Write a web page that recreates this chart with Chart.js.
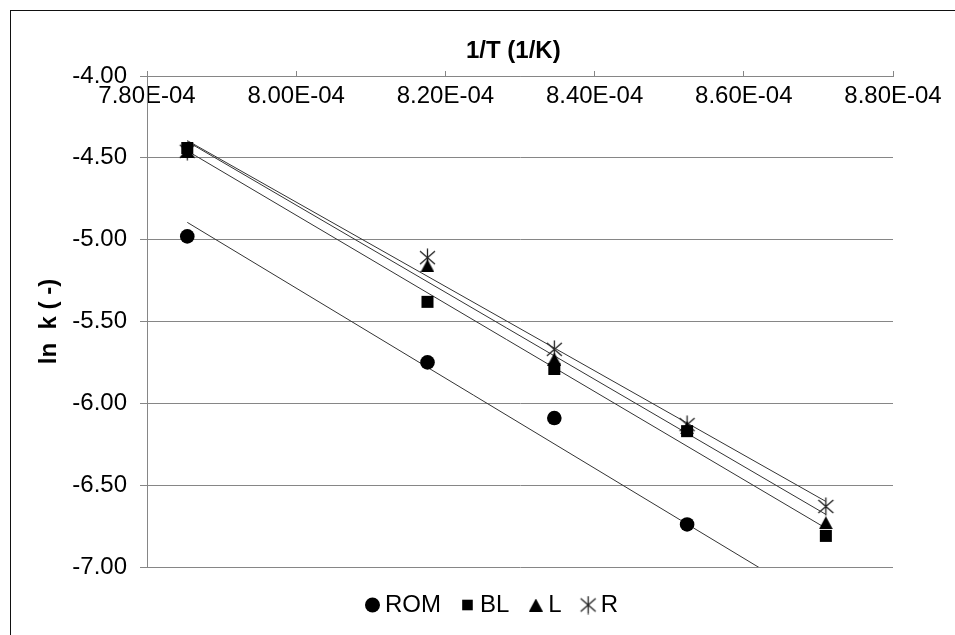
<!DOCTYPE html>
<html><head><meta charset="utf-8">
<script src="https://cdn.jsdelivr.net/npm/chart.js@4.4.1/dist/chart.umd.min.js"></script>
<style>
html,body{margin:0;padding:0;background:#fff;}
#wrap{position:relative;width:955px;height:635px;overflow:hidden;background:#fff;}
#frame{position:absolute;left:10px;top:10px;width:2000px;height:2000px;border-left:1.5px solid #111;border-top:1.5px solid #111;}
canvas{position:absolute;left:0;top:0;}
</style></head><body>
<div id="wrap"><div id="frame"></div><canvas id="c" width="955" height="635"></canvas></div>
<script>
// ---- data ----
const invT = [7.854e-4, 8.176e-4, 8.346e-4, 8.524e-4, 8.710e-4];   // 1/T (1/K)
const seriesNames = ['ROM', 'BL', 'L', 'R'];
const lnkROM = [-4.98, -5.75, -6.09, -6.74, -7.35];
const lnkBL  = [-4.44, -5.38, -5.79, -6.17, -6.81];
const lnkL   = [-4.46, -5.16, -5.73, -6.15, -6.73];
const lnkR   = [-4.46, -5.11, -5.67, -6.13, -6.63];
const xTickValues = [7.8e-4, 8.0e-4, 8.2e-4, 8.4e-4, 8.6e-4, 8.8e-4];
const yTickValues = [-4.0, -4.5, -5.0, -5.5, -6.0, -6.5, -7.0];
const xTitle = '1/T (1/K)\u00a0\u00a0';
const yTitle = 'ln  k ( -)';

const FONT = "'Liberation Sans', Arial, sans-serif";
const GRID = '#868686';
const TREND = '#333333';

function toPts(ys) { return invT.map((x, i) => ({x: x, y: ys[i]})); }
function trend(ys) {
  const n = invT.length;
  let mx = 0, my = 0;
  for (let i = 0; i < n; i++) { mx += invT[i]; my += ys[i]; }
  mx /= n; my /= n;
  let sxy = 0, sxx = 0;
  for (let i = 0; i < n; i++) { sxy += (invT[i] - mx) * (ys[i] - my); sxx += (invT[i] - mx) ** 2; }
  const b = sxy / sxx, a = my - b * mx;
  const x0 = Math.min(...invT), x1 = Math.max(...invT);
  return [{x: x0, y: a + b * x0}, {x: x1, y: a + b * x1}];
}
function makeStar() {
  const s = 19, c = document.createElement('canvas');
  c.width = s; c.height = s;
  const g = c.getContext('2d');
  g.strokeStyle = '#222'; g.lineWidth = 1.3;
  g.beginPath();
  g.moveTo(s / 2, 0.5); g.lineTo(s / 2, s - 0.5);
  g.moveTo(2, 3); g.lineTo(s - 2, s - 3);
  g.moveTo(s - 2, 3); g.lineTo(2, s - 3);
  g.stroke();
  return c;
}
function makeTriangle() {
  const w = 14, h = 13, c = document.createElement('canvas');
  c.width = w; c.height = h;
  const g = c.getContext('2d');
  g.fillStyle = '#000';
  g.beginPath(); g.moveTo(w / 2, 0); g.lineTo(w, h); g.lineTo(0, h); g.closePath(); g.fill();
  return c;
}
function fmtE(v) {
  const parts = Number(v).toExponential(2).split('e');
  const n = parseInt(parts[1], 10);
  return parts[0] + 'E' + (n < 0 ? '-' : '+') + String(Math.abs(n)).padStart(2, '0');
}
const seriesY = [lnkROM, lnkBL, lnkL, lnkR];
const styles = ['circle', 'rect', makeTriangle(), makeStar()];
const radii = [7.3, 8.5, 7, 9];
const orders = [1, 1, 1, 3];

const datasets = [];
seriesY.forEach((ys, i) => {
  datasets.push({
    label: seriesNames[i], data: toPts(ys), pointStyle: styles[i], pointRadius: radii[i],
    backgroundColor: '#000', borderColor: '#000', borderWidth: 0, showLine: false, order: orders[i]
  });
});
seriesY.forEach((ys, i) => {
  datasets.push({
    label: 'trend ' + seriesNames[i], data: trend(ys), showLine: true, pointRadius: 0,
    borderColor: TREND, borderWidth: 1, backgroundColor: TREND, order: 2
  });
});

new Chart(document.getElementById('c'), {
  type: 'scatter',
  data: {datasets: datasets},
  options: {
    responsive: false, animation: false, events: [],
    layout: {padding: {left: 35, right: 0, top: 0, bottom: 8}},
    plugins: {
      tooltip: {enabled: false},
      legend: {
        position: 'bottom', align: 'center',
        labels: {
          usePointStyle: true, boxWidth: 1, boxHeight: 10.6, padding: 26,
          font: {family: FONT, size: 24}, color: '#000',
          filter: (it) => it.datasetIndex < seriesNames.length,
          sort: (a, b) => a.datasetIndex - b.datasetIndex
        }
      }
    },
    scales: {
      x: {
        type: 'linear', position: 'top', min: xTickValues[0], max: xTickValues[xTickValues.length - 1],
        afterBuildTicks: (s) => { s.ticks = xTickValues.map(v => ({value: v})); },
        ticks: {mirror: true, padding: 6, maxRotation: 0, autoSkip: false, callback: fmtE,
                font: {family: FONT, size: 24}, color: '#000'},
        grid: {drawOnChartArea: false, drawTicks: true, tickLength: 5, color: GRID},
        border: {display: true, color: GRID, width: 1},
        title: {display: true, text: xTitle, color: '#000', padding: {top: 37, bottom: 0},
                font: {family: FONT, size: 24, weight: 'bold'}},
        afterFit: (s) => { s.height = 76; }
      },
      y: {
        type: 'linear', position: 'left', min: -7, max: -4,
        afterBuildTicks: (s) => { s.ticks = yTickValues.map(v => ({value: v})); },
        ticks: {padding: 13, callback: (v) => Number(v).toFixed(2), font: {family: FONT, size: 24}, color: '#000'},
        grid: {color: GRID, lineWidth: 1, tickLength: 7},
        border: {display: true, color: GRID, width: 1},
        title: {display: true, text: yTitle, color: '#000', padding: {top: 0, bottom: 0},
                font: {family: FONT, size: 24, weight: 'bold'}},
        afterFit: (s) => { s.width = 112; }
      },
      y2: {
        type: 'linear', position: 'right', display: true,
        grid: {display: false, drawTicks: false}, border: {display: false},
        ticks: {display: false},
        afterFit: (s) => { s.width = 62; }
      }
    }
  }
});
</script>
</body></html>
